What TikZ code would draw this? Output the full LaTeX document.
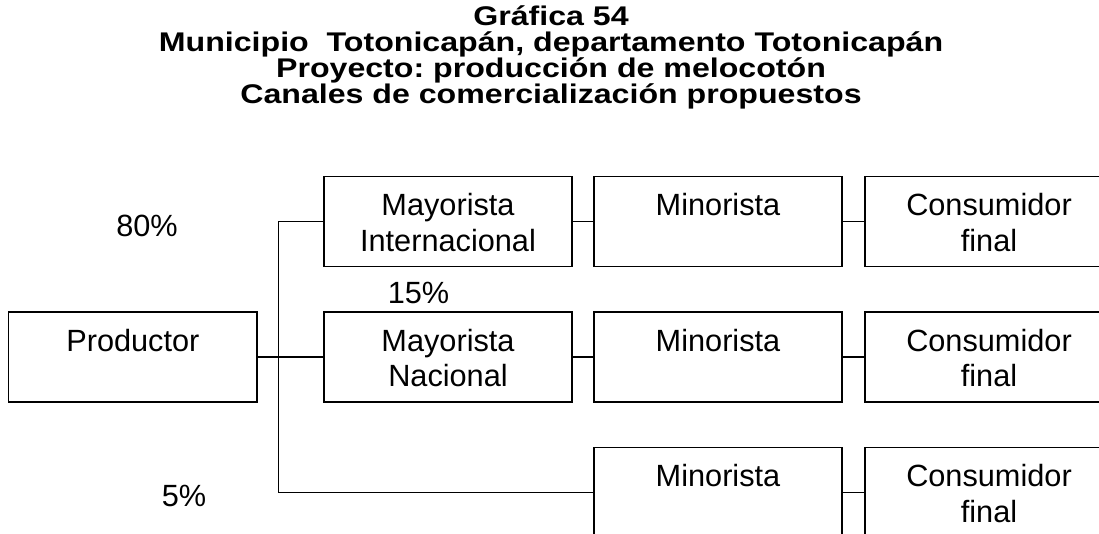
\documentclass[tikz,border=0pt]{standalone}
\usepackage{fontspec}
\setmainfont{Liberation Sans}
\frenchspacing
\begin{document}
\begin{tikzpicture}[x=1pt,y=-1pt,
  box/.style={draw,line width=1.5pt,inner sep=0pt,outer sep=0pt,
    minimum width=248.3pt,minimum height=90pt},
  lbl/.style={anchor=base,inner sep=0pt,font=\fontsize{30.7}{35.7}\selectfont},
  ttl/.style={anchor=base,inner sep=0pt,font=\fontsize{27}{26}\selectfont\bfseries},
  conn/.style={line width=1.5pt}]
\useasboundingbox (0,0) rectangle (1099,533);
\newcommand{\boxtext}[1]{\parbox[c][90pt][t]{248pt}{\centering\fontsize{30.7}{35.7}\selectfont\rule{0pt}{39pt}#1}}
\newcommand{\wide}[1]{\scalebox{1.19}[1]{#1}}
% title
\node[ttl] (t1) at (551,25) {\wide{Gráfica 54}};
\node[ttl] (t2) at (551,51) {\wide{Municipio\ \ Totonicapán, departamento Totonicapán}};
\node[ttl] (t3) at (551,77) {\wide{Proyecto: producción de melocotón}};
\node[ttl] (t4) at (551,103) {\wide{Canales de comercialización propuestos}};
% boxes
\node[box] (prod) at (132.85,357) {\boxtext{Productor}};
\node[box] (mi) at (448,221.7) {\boxtext{Mayorista\\Internacional}};
\node[box] (min1) at (718,221.7) {\boxtext{Minorista}};
\node[box] (c1) at (989,221.7) {\boxtext{Consumidor\\final}};
\node[box] (mn) at (448,357) {\boxtext{Mayorista\\Nacional}};
\node[box] (min2) at (718,357) {\boxtext{Minorista}};
\node[box] (c2) at (989,357) {\boxtext{Consumidor\\final}};
\node[box] (min3) at (718,492.3) {\boxtext{Minorista}};
\node[box] (c3) at (989,492.3) {\boxtext{Consumidor\\final}};
% percentages
\node[lbl] (p80) at (147,236.7) {80\%};
\node[lbl] (p15) at (418.5,303) {15\%};
\node[lbl] (p5) at (184,506.7) {5\%};
% connectors
\draw[conn] (prod.east) -- (mn.west);
\draw[conn] (mi.west) -- ++(-45.3,0) |- (min3.west);
\draw[conn] (mi.east) -- (min1.west);
\draw[conn] (min1.east) -- (c1.west);
\draw[conn] (mn.east) -- (min2.west);
\draw[conn] (min2.east) -- (c2.west);
\draw[conn] (min3.east) -- (c3.west);
\end{tikzpicture}
\end{document}
